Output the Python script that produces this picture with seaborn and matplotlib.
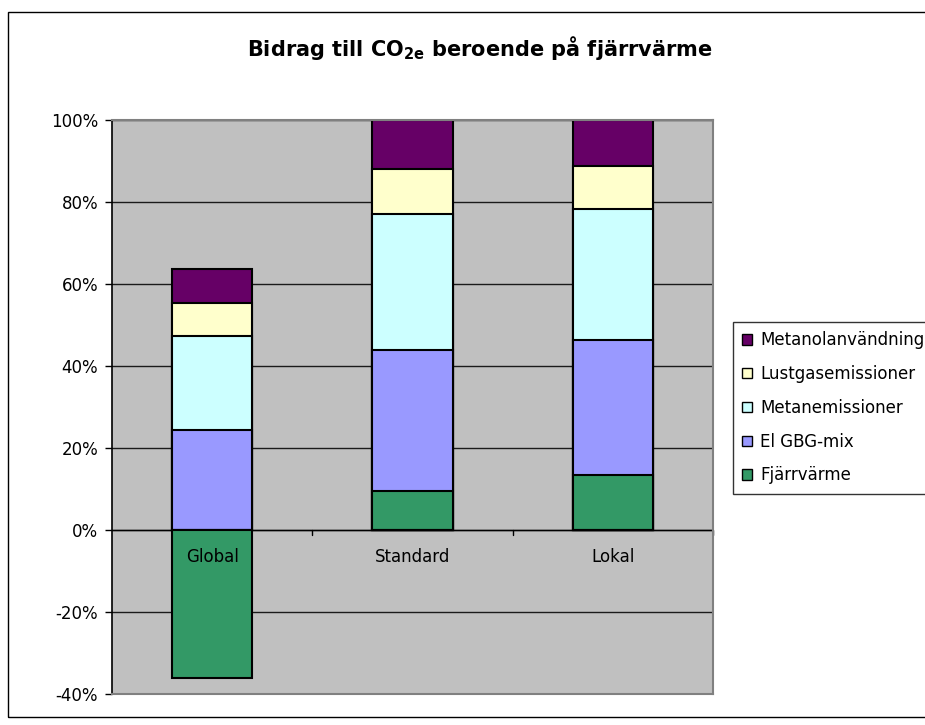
import numpy as np
import pandas as pd
import matplotlib
matplotlib.use("Agg")
import matplotlib.pyplot as plt
from matplotlib.patches import Patch, Rectangle
from matplotlib.ticker import FixedLocator, FuncFormatter
import seaborn as sns

# Scenario categories and contributions (% of the reference total)
categories = ["Global", "Standard", "Lokal"]
series_names = ["Fjärrvärme", "El GBG-mix", "Metanemissioner",
                "Lustgasemissioner", "Metanolanvändning"]
fjarrvarme = [-36.2, 9.5, 13.4]
el_gbg_mix = [24.4, 34.4, 33.1]
metanemissioner = [23.0, 33.2, 31.9]
lustgasemissioner = [7.9, 10.9, 10.4]
metanolanvandning = [8.3, 12.0, 11.2]
y_ticks = [-40, -20, 0, 20, 40, 60, 80, 100]

colors = ["#339966", "#9999FF", "#CCFFFF", "#FFFFCC", "#660066"]

sns.set_theme(style="white")
plt.rcParams["font.family"] = ["DejaVu Sans"]
plt.rcParams["mathtext.fontset"] = "dejavusans"
plt.rcParams["text.color"] = "black"
plt.rcParams["axes.labelcolor"] = "black"
plt.rcParams["xtick.color"] = "black"
plt.rcParams["ytick.color"] = "black"

values = np.array([fjarrvarme, el_gbg_mix, metanemissioner,
                   lustgasemissioner, metanolanvandning])

# Positive parts stack upward from zero, negative parts downward
pos_cum = np.cumsum(np.clip(values, 0, None), axis=0)
neg_cum = np.cumsum(np.clip(values, None, 0), axis=0)

fig = plt.figure(figsize=(9.25, 7.25), dpi=100)
ax = fig.add_axes([112 / 925, 31 / 725, 601 / 925, 573.7 / 725])
ax.set_facecolor("#C0C0C0")

for y in y_ticks:
    ax.axhline(y, color="#1a1a1a", lw=1.0, zorder=0.5)

# draw the stacks top-down so each lower segment covers the one above it
for i in reversed(range(len(series_names))):
    df = pd.DataFrame({"cat": categories, "val": pos_cum[i]})
    sns.barplot(data=df, x="cat", y="val", order=categories, color=colors[i],
                saturation=1, width=0.4, edgecolor="black", linewidth=1.5,
                ax=ax, zorder=2)
    if np.any(values[i] < 0):
        dfn = pd.DataFrame({"cat": categories,
                            "val": np.where(values[i] < 0, neg_cum[i], 0.0)})
        sns.barplot(data=dfn, x="cat", y="val", order=categories, color=colors[i],
                    saturation=1, width=0.4, edgecolor="black", linewidth=1.5,
                    ax=ax, zorder=2)

ax.set_xlim(-0.5, 2.5)
ax.set_ylim(-40, 100)
ax.set_xlabel("")
ax.set_ylabel("")

ax.yaxis.set_major_locator(FixedLocator(y_ticks))
ax.yaxis.set_major_formatter(FuncFormatter(lambda v, p: f"{v:.0f}%"))
ax.tick_params(axis="y", which="major", length=5, width=1, color="black",
               left=True, labelsize=12, labelcolor="black", pad=5,
               direction="out")

# category axis sits at 0 %, with ticks between categories
ax.axhline(0, color="black", lw=1.0, zorder=1)
ax.xaxis.set_major_locator(FixedLocator([]))
ax.tick_params(axis="x", which="both", bottom=False, labelbottom=False)
for b in [0.5, 1.5, 2.5]:
    ax.plot([b, b], [0, -1.2], color="black", lw=1.0, zorder=1, clip_on=False)
for i, c in enumerate(categories):
    ax.annotate(c, (i, 0), xytext=(0, -27), textcoords="offset pixels",
                ha="center", va="center", fontsize=12, color="black", zorder=5)

for side in ["top", "right", "bottom"]:
    ax.spines[side].set_visible(True)
    ax.spines[side].set_color("#808080")
    ax.spines[side].set_linewidth(1.5)
ax.spines["left"].set_visible(True)
ax.spines["left"].set_color("black")
ax.spines["left"].set_linewidth(1.2)

# chart title with subscript
fig.text(480 / 925, 1 - 48 / 725,
         r"Bidrag till CO$_{\mathbf{2e}}$ beroende på fjärrvärme",
         ha="center", va="center", fontsize=15, fontweight="bold", color="black")

# legend
handles = [Patch(facecolor=colors[i], edgecolor="black", linewidth=1.0,
                 label=series_names[i]) for i in reversed(range(len(series_names)))]
leg = fig.legend(handles=handles, loc="upper left",
                 bbox_to_anchor=(733 / 925, 1 - 322 / 725),
                 fontsize=12, frameon=True, fancybox=False,
                 handlelength=0.6, handleheight=0.6, handletextpad=0.5,
                 labelspacing=0.95, borderpad=0.55, borderaxespad=0)
leg.get_frame().set_edgecolor("black")
leg.get_frame().set_linewidth(1.0)
for t in leg.get_texts():
    t.set_color("black")

# chart area border
fig.patches.append(Rectangle((8 / 925, 8 / 725), 1.2, 1 - 20 / 725,
                             transform=fig.transFigure, fill=False,
                             edgecolor="black", linewidth=1.0))

fig.savefig("out.png", dpi=100, facecolor="white")
